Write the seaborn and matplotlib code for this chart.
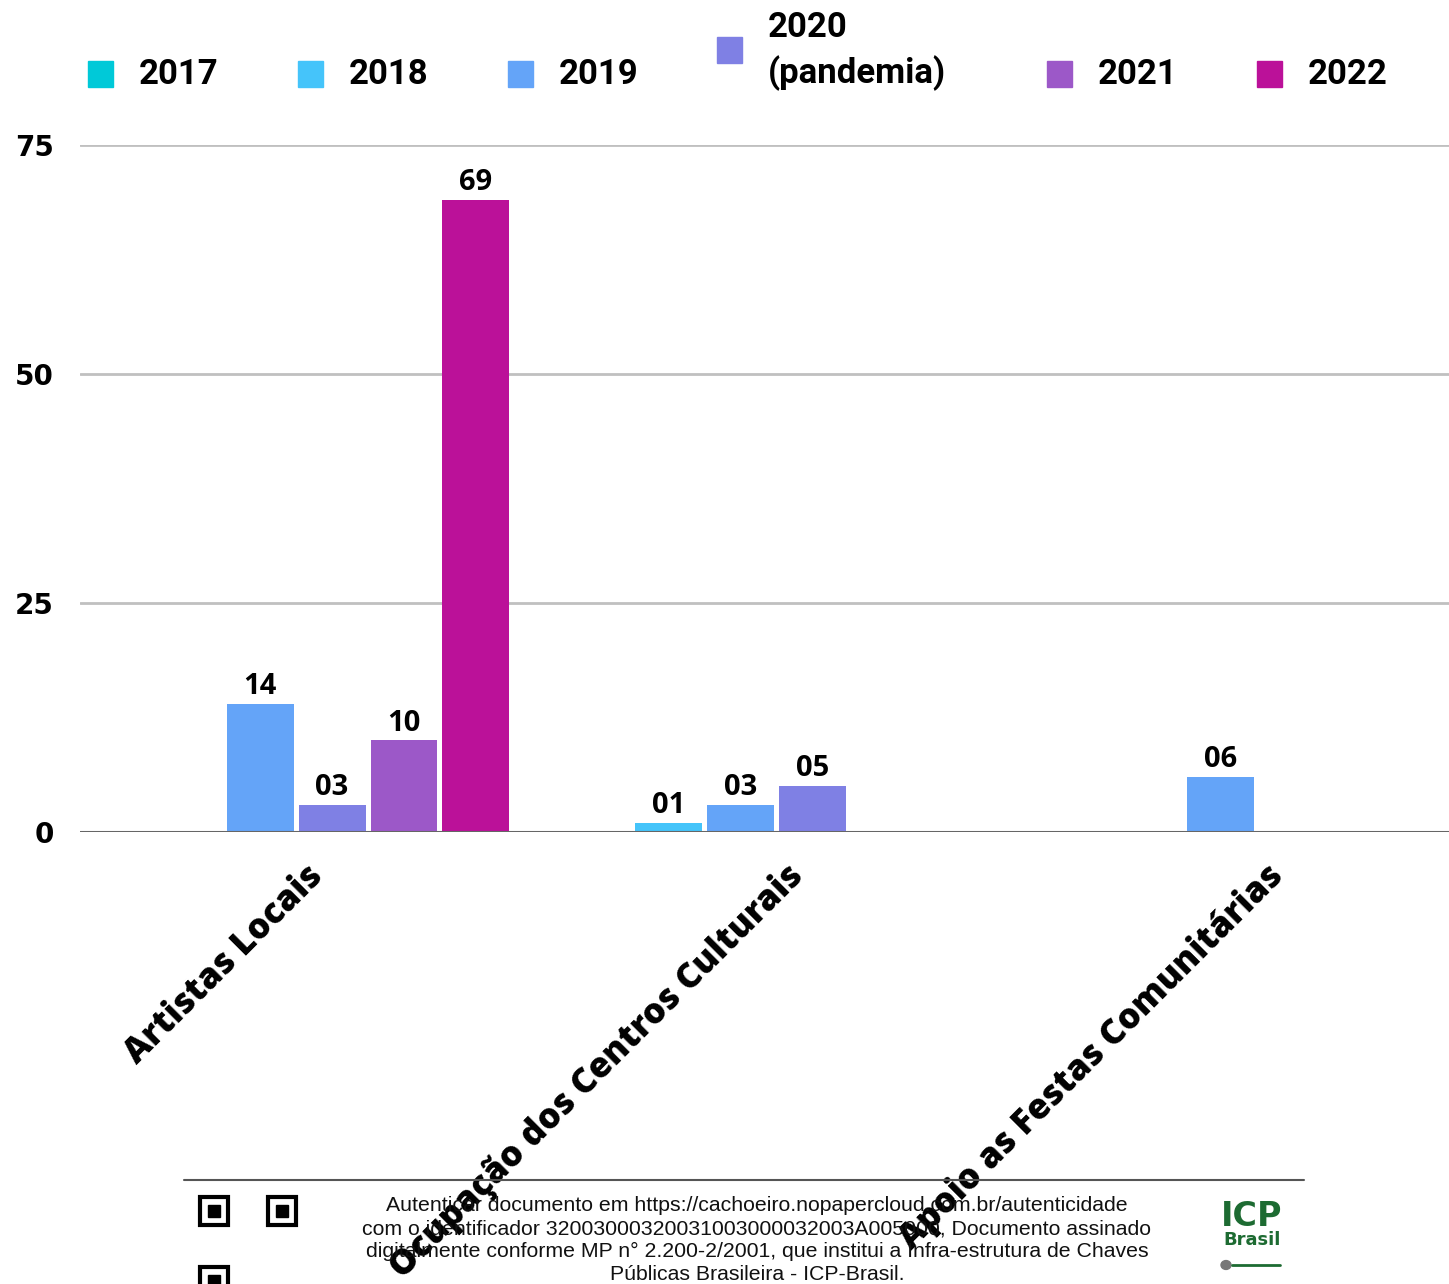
import numpy as np
import pandas as pd
import seaborn as sns
import matplotlib.pyplot as plt
import matplotlib.transforms as mtransforms
from matplotlib.patches import Rectangle, Circle

categorias = ['Artistas Locais', 'Ocupação dos Centros Culturais', 'Apoio as Festas Comunitárias']
anos = ['2017', '2018', '2019', '2020\n(pandemia)', '2021', '2022']
cores = ['#00c9d8', '#45c4fa', '#64a4f8', '#7f80e4', '#9c58c8', '#bb1199']

v2017 = [0, 0, 0]
v2018 = [0, 1, 0]
v2019 = [14, 3, 6]
v2020 = [3, 5, 0]
v2021 = [10, 0, 0]
v2022 = [69, 0, 0]

rodape = ("Autenticar documento em https://cachoeiro.nopapercloud.com.br/autenticidade\n"
          "com o identificador 32003000320031003000032003A005000, Documento assinado\n"
          "digitalmente conforme MP n° 2.200-2/2001, que institui a Infra-estrutura de Chaves\n"
          "Públicas Brasileira - ICP-Brasil.")

series = [v2017, v2018, v2019, v2020, v2021, v2022]
rows = []
for ano, vals in zip(anos, series):
    for cat, v in zip(categorias, vals):
        rows.append({'categoria': cat, 'ano': ano, 'valor': v})
df = pd.DataFrame(rows)

sns.set_style('white')
plt.rcParams['font.family'] = ['DejaVu Sans']
plt.rcParams['text.color'] = 'black'

W, H = 1449, 1284
fig = plt.figure(figsize=(W / 100, H / 100), dpi=100)
ax = fig.add_axes([80 / W, (H - 832) / H, 1 - 80 / W, (832 - 145) / H])

sns.barplot(data=df, x='categoria', y='valor', hue='ano', palette=cores, saturation=1,
            width=0.898, gap=0.07, linewidth=0, ax=ax, legend=False)

for cont in ax.containers:
    labs = [f'{int(b.get_height()):02d}' if b.get_height() > 0 else '' for b in cont]
    ax.bar_label(cont, labels=labs, padding=2, fontsize=21, fontweight='bold', color='black',
                 family=['Open Sans', 'DejaVu Sans'])

ax.set_ylim(0, 75)
ax.set_xlim(-0.45, 2.40)
ax.set_yticks([0, 25, 50, 75])
ax.yaxis.grid(True, color='#c0c0c0', linewidth=2)
ax.set_axisbelow(True)
ax.axhline(0, color='#666666', linewidth=2.2, zorder=3)
for s in ax.spines.values():
    s.set_visible(False)
ax.tick_params(axis='both', length=0, colors='black')
ax.tick_params(axis='y', pad=19)
for t in ax.get_yticklabels():
    t.set_fontsize(20)
    t.set_fontweight('heavy')
ax.set_xlabel('')
ax.set_ylabel('')
ax.set_xticks(range(len(categorias)))
ax.set_xticklabels(categorias, rotation=45, ha='right', va='top', rotation_mode='anchor',
                   fontsize=25, fontweight='heavy', family=['Open Sans', 'DejaVu Sans'])
ax.tick_params(axis='x', pad=19)
desloc = mtransforms.ScaledTranslation(9 / 100, 0, fig.dpi_scale_trans)
for t in ax.get_xticklabels():
    t.set_transform(t.get_transform() + desloc)

# legenda
leg_x = [100, 310, 520, 729, 1059, 1269]
for xp, ano, c in zip(leg_x, anos, cores):
    yc = 50 if '\n' in ano else 74
    fig.patches.append(Rectangle(((xp - 12) / W, 1 - (yc + 13) / H), 25 / W, 26 / H,
                                 color=c, transform=fig.transFigure, figure=fig))
    fig.text((xp + 39) / W, 1 - (yc + 1) / H, ano, ha='left', va='center', fontsize=25,
             fontweight='bold', family=['Roboto', 'DejaVu Sans'], linespacing=1.4)

# rodape
fig.add_artist(plt.Line2D([184 / W, 1304 / W], [1 - 1180 / H] * 2, color='#555555', linewidth=1.5))
fig.text(757 / W, 1 - 1196 / H, rodape, ha='center', va='top', fontsize=15.3,
         family=['Liberation Sans'], linespacing=1.27, color='#111111')
for qx, qy in [(200, 1197), (268, 1197), (200, 1267)]:
    fig.patches.append(Rectangle((qx / W, 1 - (qy + 28) / H), 28 / W, 28 / H, fill=False,
                                 linewidth=3, edgecolor='black', transform=fig.transFigure, figure=fig))
    fig.patches.append(Rectangle(((qx + 8) / W, 1 - (qy + 20) / H), 12 / W, 12 / H,
                                 color='black', transform=fig.transFigure, figure=fig))
fig.text(1252 / W, 1 - 1217 / H, 'ICP', ha='center', va='center', fontsize=24,
         fontweight='heavy', color='#1d6b32')
fig.text(1252 / W, 1 - 1240 / H, 'Brasil', ha='center', va='center', fontsize=13,
         fontweight='heavy', color='#1d6b32')
fig.patches.append(Circle((1226 / W, 1 - 1265 / H), 5 / W, color='#777777',
                          transform=fig.transFigure, figure=fig))
fig.add_artist(plt.Line2D([1232 / W, 1280 / W], [1 - 1265 / H] * 2, color='#1d6b32', linewidth=2))

fig.savefig('out.png', dpi=100)
